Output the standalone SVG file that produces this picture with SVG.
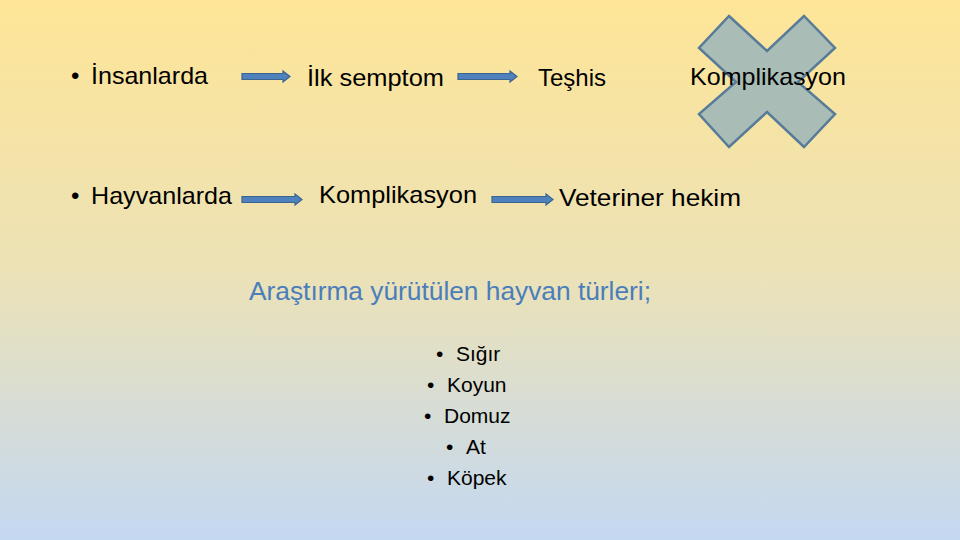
<svg xmlns="http://www.w3.org/2000/svg" width="960" height="540" viewBox="0 0 960 540">
  <defs>
    <linearGradient id="bg" x1="0" y1="0" x2="0" y2="1">
      <stop offset="0" stop-color="#fee597"/>
      <stop offset="0.5" stop-color="#ece2b6"/>
      <stop offset="1" stop-color="#c4d8f2"/>
    </linearGradient>
  </defs>
  <style>
    .t { font-family: "Liberation Sans", Arial, sans-serif; fill: #000000; }
    .r { font-size: 24px; }
    .blue { font-size: 26px; fill: #4a7ebb; }
    .li { font-size: 21px; }
    .arrow { fill: #4f81bd; stroke: #3a6591; stroke-width: 1.2; }
    .x { fill: #a9bdb6; stroke: #587b9a; stroke-width: 2.5; stroke-linejoin: miter; }
  </style>
  <rect width="960" height="540" fill="url(#bg)"/>

  <g id="cross">
    <polygon class="x" points="729,16 767,51 804,16 835,48 798,82 835,114 804,147 767,112 729,147 699,114 736,82 699,48"/>
  </g>

  <g id="connectors">
    <path class="arrow" d="M242,73.5 H283 V71 L290,76.5 L283,82 V79.5 H242 Z"/>
    <path class="arrow" d="M458,73.5 H510 V71 L517,76.5 L510,82 V79.5 H458 Z"/>
    <path class="arrow" d="M242,196.5 H295 V194 L302,199.5 L295,205 V202.5 H242 Z"/>
    <path class="arrow" d="M492,196.5 H546 V194 L553,199.5 L546,205 V202.5 H492 Z"/>
  </g>

  <g id="insanlarda">
    <text class="t r" x="71" y="84">•</text>
    <text class="t r" x="91" y="84" textLength="117" lengthAdjust="spacingAndGlyphs">İnsanlarda</text>
  </g>
  <g id="ilk-semptom">
    <text class="t r" x="307" y="86" textLength="137" lengthAdjust="spacingAndGlyphs">İlk semptom</text>
  </g>
  <g id="teshis">
    <text class="t r" x="538" y="86" textLength="68" lengthAdjust="spacingAndGlyphs">Teşhis</text>
  </g>
  <g id="komplikasyon-1">
    <text class="t r" x="690" y="85" textLength="156" lengthAdjust="spacingAndGlyphs">Komplikasyon</text>
  </g>

  <g id="hayvanlarda">
    <text class="t r" x="71" y="204">•</text>
    <text class="t r" x="91" y="204" textLength="141" lengthAdjust="spacingAndGlyphs">Hayvanlarda</text>
  </g>
  <g id="komplikasyon-2">
    <text class="t r" x="319" y="203" textLength="158" lengthAdjust="spacingAndGlyphs">Komplikasyon</text>
  </g>
  <g id="veteriner-hekim">
    <text class="t r" x="559" y="206" textLength="182" lengthAdjust="spacingAndGlyphs">Veteriner hekim</text>
  </g>

  <g id="baslik">
    <text class="t blue" x="249" y="300" textLength="402" lengthAdjust="spacingAndGlyphs">Araştırma yürütülen hayvan türleri;</text>
  </g>

  <g id="liste">
    <text class="t li" x="436" y="361">•</text><text class="t li" x="456" y="361">Sığır</text>
    <text class="t li" x="427" y="392">•</text><text class="t li" x="447" y="392">Koyun</text>
    <text class="t li" x="424" y="423">•</text><text class="t li" x="444" y="423">Domuz</text>
    <text class="t li" x="446" y="454">•</text><text class="t li" x="466" y="454">At</text>
    <text class="t li" x="427" y="485">•</text><text class="t li" x="447" y="485">Köpek</text>
  </g>
</svg>
